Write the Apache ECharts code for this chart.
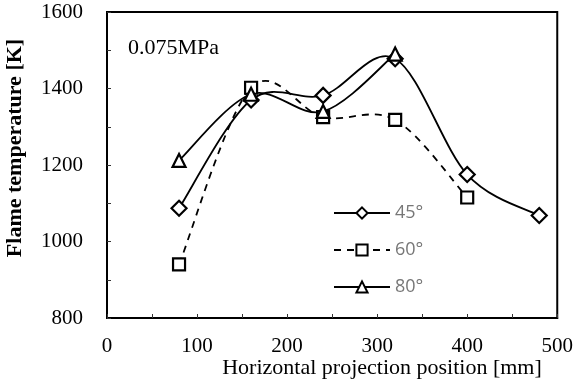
<!DOCTYPE html>
<html><head><meta charset="utf-8">
<script src="https://cdn.jsdelivr.net/npm/echarts@6/dist/echarts.min.js"></script>
<style>html,body{margin:0;padding:0;background:#fff}#c{width:576px;height:385px}</style>
</head><body><div id="c"></div>
<script>
const xPos45 = [80, 160, 240, 320, 400, 480];
const temp45 = [1087, 1370, 1382, 1478, 1175, 1068];
const xPos60 = [80, 160, 240, 320, 400];
const temp60 = [940, 1402, 1325, 1318, 1115];
const xPos80 = [80, 160, 240, 320];
const temp80 = [1212, 1385, 1340, 1490];
const seriesNames = ['45°', '60°', '80°'];
const xTitle = 'Horizontal projection position [mm]';
const yTitle = 'Flame temperature [K]';
const note = '0.075MPa';

const pair = (xs, ys) => xs.map((x, i) => [x, ys[i]]);
const serif = 'Liberation Serif';
const chart = echarts.init(document.getElementById('c'));
const dash = [7, 6];

// smooth (Catmull-Rom style) curve drawn through data via the axes' coord()
function curve(data, dashed) {
  return {
    type: 'custom', data: data, z: 1, silent: true,
    renderItem: function (params, api) {
      if (params.dataIndex !== 0) return null;
      const p = data.map(d => api.coord(d));
      const n = p.length, kids = [];
      for (let i = 0; i < n - 1; i++) {
        const p0 = p[Math.max(i - 1, 0)], p1 = p[i], p2 = p[i + 1], p3 = p[Math.min(i + 2, n - 1)];
        kids.push({
          type: 'bezierCurve',
          shape: {
            x1: p1[0], y1: p1[1], x2: p2[0], y2: p2[1],
            cpx1: p1[0] + (p2[0] - p0[0]) / 6, cpy1: p1[1] + (p2[1] - p0[1]) / 6,
            cpx2: p2[0] - (p3[0] - p1[0]) / 6, cpy2: p2[1] - (p3[1] - p1[1]) / 6
          },
          style: { stroke: '#000', lineWidth: 1.8, fill: null, lineDash: dashed ? dash : null }
        });
      }
      return { type: 'group', children: kids };
    }
  };
}
const mk = (name, data, symbol, size) => ({
  name, type: 'line', data, symbol, symbolSize: size, z: 3,
  lineStyle: { opacity: 0 },
  itemStyle: { color: '#fff', borderColor: '#000', borderWidth: 2.2 },
  emphasis: { disabled: true }
});
const d45 = pair(xPos45, temp45), d60 = pair(xPos60, temp60), d80 = pair(xPos80, temp80);
chart.setOption({
  animation: false,
  grid: { left: 107, right: 16, top: 12, bottom: 67, show: true, borderColor: '#000', borderWidth: 2, backgroundColor: 'transparent' },
  xAxis: {
    type: 'value', min: 0, max: 500, interval: 100,
    axisLine: { lineStyle: { color: '#000', width: 2 } },
    axisTick: { inside: true, length: 4, lineStyle: { color: '#333', width: 1 } },
    minorTick: { show: true, splitNumber: 2, length: 4, lineStyle: { color: '#333', width: 1 } },
    splitLine: { show: false },
    axisLabel: { fontFamily: serif, fontSize: 21, color: '#000', margin: 18, formatter: v => String(v) }
  },
  yAxis: {
    type: 'value', min: 800, max: 1600, interval: 200,
    axisLine: { lineStyle: { color: '#000', width: 2 } },
    axisTick: { inside: true, length: 4, lineStyle: { color: '#333', width: 1 } },
    minorTick: { show: true, splitNumber: 2, length: 4, lineStyle: { color: '#333', width: 1 } },
    splitLine: { show: false },
    axisLabel: { fontFamily: serif, fontSize: 21, color: '#000', margin: 24, formatter: v => String(v) }
  },
  legend: {
    orient: 'vertical', left: 328, top: 199, itemGap: 19, itemWidth: 56, itemHeight: 14,
    data: [
      { name: seriesNames[0], lineStyle: { opacity: 1, color: '#000', width: 2, type: 'solid' } },
      { name: seriesNames[1], lineStyle: { opacity: 1, color: '#000', width: 2, type: dash } },
      { name: seriesNames[2], lineStyle: { opacity: 1, color: '#000', width: 2, type: 'solid' } }
    ],
    textStyle: { fontFamily: 'Open Sans', fontSize: 18, color: '#777' }
  },
  graphic: [
    { type: 'text', left: 128, top: 37, style: { text: note, font: '22px "Liberation Serif"', fill: '#000' } },
    { type: 'text', x: 382, y: 368, style: { text: xTitle, font: '22px "Liberation Serif"', fill: '#000', align: 'center', verticalAlign: 'middle' } },
    { type: 'text', x: 15, y: 148, rotation: Math.PI / 2, style: { text: yTitle, font: 'bold 22px "Liberation Serif"', fill: '#000', align: 'center', verticalAlign: 'middle' } }
  ],
  series: [
    curve(d45, false), curve(d60, true), curve(d80, false),
    mk(seriesNames[0], d45, 'diamond', 15),
    mk(seriesNames[1], d60, 'rect', 12),
    mk(seriesNames[2], d80, 'triangle', 13)
  ]
});
</script></body></html>
